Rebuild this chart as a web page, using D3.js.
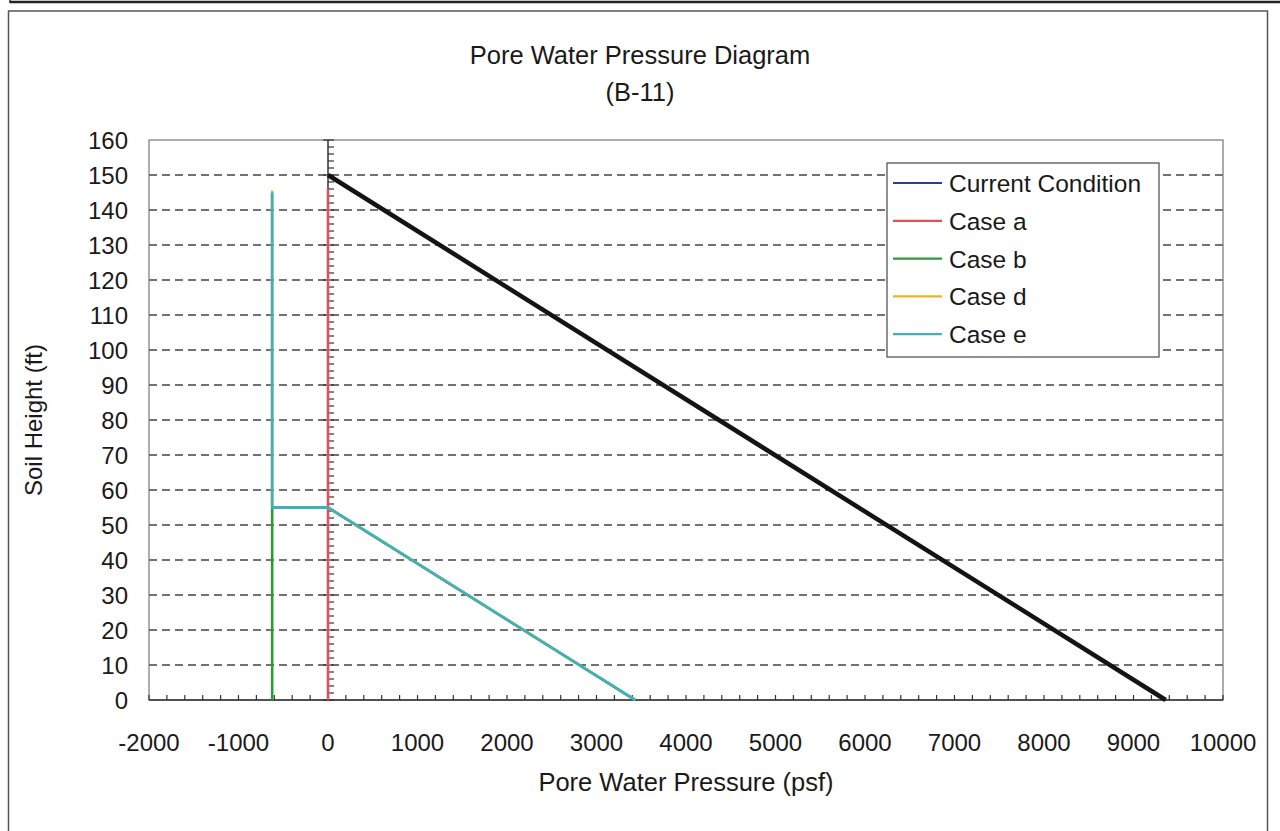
<!DOCTYPE html>
<html>
<head>
<meta charset="utf-8">
<script src="https://cdn.jsdelivr.net/npm/d3@7"></script>
<style>
  html, body { margin: 0; padding: 0; background: #fff; }
  svg { display: block; }
  text { font-family: "Liberation Sans", Arial, sans-serif; fill: #1a1a1a; }
</style>
</head>
<body>
<svg id="chart" width="1280" height="831"></svg>
<script>
// ---- data ----
const titleLines = ["Pore Water Pressure Diagram", "(B-11)"];
const xLabel = "Pore Water Pressure (psf)";
const yLabel = "Soil Height (ft)";
const xTickValues = [-2000, -1000, 0, 1000, 2000, 3000, 4000, 5000, 6000, 7000, 8000, 9000, 10000];
const yTickValues = [0, 10, 20, 30, 40, 50, 60, 70, 80, 90, 100, 110, 120, 130, 140, 150, 160];
const seriesNames = ["Current Condition", "Case a", "Case b", "Case d", "Case e"];
const currentX = [0, 9360];
const currentY = [150, 0];
const caseAX = [0, 0];
const caseAY = [146, 0];
const caseBX = [-624, -624, 0, 3432];
const caseBY = [0, 55, 55, 0];
const caseDX = [-624, -624, 0, 3432];
const caseDY = [145.6, 55, 55, 0];
const caseEX = [-624, -624, 0, 3432];
const caseEY = [145, 55, 55, 0];
const lineColors = ["#141414", "#e2505c", "#2e9a35", "#f2b21c", "#40b1b8"];
const legendColors = ["#2c3f8f", "#e2505c", "#2e9a35", "#f2b21c", "#40b1b8"];

// ---- layout ----
const svg = d3.select("#chart");
const L = 149, R = 1223, T = 140, B = 700;
const x = d3.scaleLinear().domain([-2000, 10000]).range([L, R]);
const y = d3.scaleLinear().domain([0, 160]).range([B, T]);

// outer frame
svg.append("line").attr("x1", 10).attr("x2", 1280).attr("y1", 2).attr("y2", 2)
  .attr("stroke", "#222").attr("stroke-width", 2.5);
svg.append("line").attr("x1", 10).attr("x2", 10).attr("y1", 0).attr("y2", 3)
  .attr("stroke", "#222").attr("stroke-width", 1.5);
svg.append("rect").attr("x", 8.5).attr("y", 11).attr("width", 1259).attr("height", 840)
  .attr("fill", "none").attr("stroke", "#555").attr("stroke-width", 1.5);

// title
const title = svg.append("text").attr("text-anchor", "middle").style("font-size", "25.5px");
titleLines.forEach((t, i) => {
  title.append("tspan").attr("x", 640).attr("y", 64 + i * 37).text(t);
});

// gridlines
svg.append("g").selectAll("line")
  .data(yTickValues.filter(v => v > 0 && v < 160))
  .join("line")
  .attr("x1", L).attr("x2", R)
  .attr("y1", d => y(d)).attr("y2", d => y(d))
  .attr("stroke", "#444").attr("stroke-width", 1.3)
  .attr("stroke-dasharray", "8,5");

// plot border
svg.append("rect").attr("x", L).attr("y", T).attr("width", R - L).attr("height", B - T)
  .attr("fill", "none").attr("stroke", "#777").attr("stroke-width", 1.2);

// x axis at bottom (ticks pointing up)
const xMinor = d3.range(-2000, 10001, 200);
svg.append("line").attr("x1", L).attr("x2", R).attr("y1", B).attr("y2", B)
  .attr("stroke", "#333").attr("stroke-width", 1.5);
svg.append("g").selectAll("line").data(xMinor).join("line")
  .attr("x1", d => x(d)).attr("x2", d => x(d))
  .attr("y1", B).attr("y2", B - 5)
  .attr("stroke", "#333").attr("stroke-width", 1.2);
svg.append("g").selectAll("text").data(xTickValues).join("text")
  .attr("x", d => x(d)).attr("y", 751)
  .attr("text-anchor", "middle").style("font-size", "24px")
  .text(d => d);

// y axis at x = 0
const yMinor = d3.range(0, 161, 2);
svg.append("line").attr("x1", x(0)).attr("x2", x(0)).attr("y1", T).attr("y2", B)
  .attr("stroke", "#333").attr("stroke-width", 1.5);
svg.append("g").selectAll("line").data(yMinor).join("line")
  .attr("x1", d => x(0) - (d % 10 === 0 ? 5 : 0)).attr("x2", x(0) + 6)
  .attr("y1", d => y(d)).attr("y2", d => y(d))
  .attr("stroke", "#333").attr("stroke-width", 1.2);
svg.append("g").selectAll("text").data(yTickValues).join("text")
  .attr("x", 128).attr("y", d => y(d) + 8.5)
  .attr("text-anchor", "end").style("font-size", "24px")
  .text(d => d);

// axis labels
svg.append("text").attr("x", (L + R) / 2).attr("y", 791)
  .attr("text-anchor", "middle").style("font-size", "25.5px").text(xLabel);
svg.append("text").attr("transform", `translate(42,${(T + B) / 2}) rotate(-90)`)
  .attr("text-anchor", "middle").style("font-size", "24px").text(yLabel);

// series
const seriesX = [currentX, caseAX, caseBX, caseDX, caseEX];
const seriesY = [currentY, caseAY, caseBY, caseDY, caseEY];
const widths = [4.5, 2.6, 2.6, 2.6, 2.8];
const line = d3.line().x(d => x(d[0])).y(d => y(d[1]));
seriesX.forEach((xs, i) => {
  const pts = xs.map((v, j) => [v, seriesY[i][j]]);
  svg.append("path").attr("d", line(pts))
    .attr("fill", "none").attr("stroke", lineColors[i])
    .attr("stroke-width", widths[i]).attr("stroke-linejoin", "round");
});

// legend
const lg = svg.append("g");
lg.append("rect").attr("x", 887).attr("y", 163).attr("width", 272).attr("height", 194)
  .attr("fill", "#fff").attr("stroke", "#555").attr("stroke-width", 1.3);
seriesNames.forEach((n, i) => {
  const cy = 183 + i * 37.8;
  lg.append("line").attr("x1", 893).attr("x2", 942).attr("y1", cy).attr("y2", cy)
    .attr("stroke", legendColors[i]).attr("stroke-width", 2.2);
  lg.append("text").attr("x", 949).attr("y", cy + 9).style("font-size", "24.5px").text(n);
});
</script>
</body>
</html>
